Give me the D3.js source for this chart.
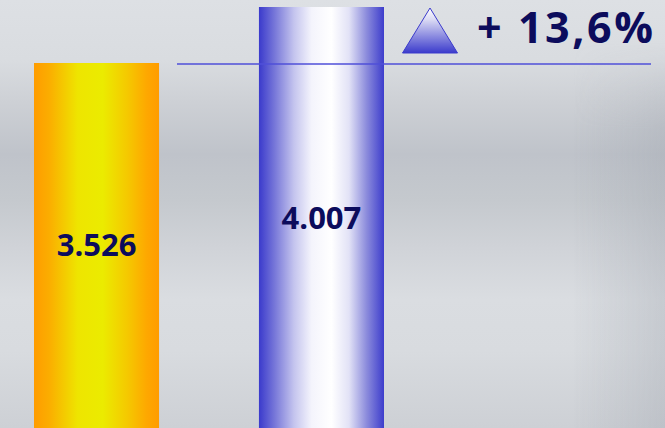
<!DOCTYPE html>
<html>
<head>
<meta charset="utf-8">
<script src="https://cdn.jsdelivr.net/npm/d3@7"></script>
<style>
  html, body { margin: 0; padding: 0; overflow: hidden; }
  svg { display: block; }
</style>
</head>
<body>
<svg id="chart"></svg>
<script>
// values
var categories = ["A", "B"]
var values = [3526, 4007]
var changeLabel = "+ 13,6%"

var W = 665, H = 428
var svg = d3.select("#chart").attr("width", W).attr("height", H)
var defs = svg.append("defs")

function addGradient(id, stops, vertical) {
	var g = defs.append("linearGradient").attr("id", id)
		.attr("x1", 0).attr("y1", 0)
		.attr("x2", vertical ? 0 : 1).attr("y2", vertical ? 1 : 0)
	stops.forEach(function(s) {
		g.append("stop").attr("offset", s[0]).attr("stop-color", s[1])
			.attr("stop-opacity", s[2] == null ? 1 : s[2])
	})
}

addGradient("bg", [[0, "#dde0e4"], [0.14, "#d9dce0"], [0.24, "#cdd0d5"],
	[0.36, "#bfc3ca"], [0.47, "#c5c9ce"], [0.58, "#d0d3d8"], [0.7, "#dadde1"],
	[0.82, "#d8dbdf"], [1, "#cdd0d5"]], true)
addGradient("bgRight", [[0, "#9aa0aa", 0], [0.86, "#9aa0aa", 0], [1, "#9aa0aa", 0.3]], false)
addGradient("fadeDown", [[0, "#000"], [0.1, "#000"], [0.3, "#fff"], [1, "#fff"]], true)
addGradient("orange", [[0, "#ff9c00"], [0.12, "#fbad00"], [0.35, "#eee500"],
	[0.55, "#ebeb00"], [0.75, "#f5c800"], [0.9, "#fea800"], [1, "#ff9c00"]], false)
addGradient("blue", [[0, "#3a3acc"], [0.12, "#7474d8"], [0.28, "#c4c4ee"],
	[0.42, "#f4f4fc"], [0.58, "#ffffff"], [0.72, "#e2e2f6"], [0.86, "#8c8cdc"],
	[1, "#3d3dcc"]], false)
addGradient("tri", [[0, "#ffffff"], [0.25, "#dcdcf4"], [1, "#3b3bcc"]], true)

defs.append("mask").attr("id", "rightMask")
	.append("rect").attr("width", W).attr("height", H).attr("fill", "url(#fadeDown)")

svg.append("rect").attr("width", W).attr("height", H).attr("fill", "url(#bg)")
svg.append("rect").attr("width", W).attr("height", H)
	.attr("fill", "url(#bgRight)").attr("mask", "url(#rightMask)")

var x = d3.scaleBand().domain(categories).range([34, 384])
	.paddingInner(0.444).paddingOuter(0)
var y = d3.scaleLinear().domain([0, d3.max(values)]).range([473.5, 7])

var fmt = d3.formatLocale({ decimal: ",", thousands: ".", grouping: [3], currency: ["", ""] }).format(",d")
var fills = ["url(#orange)", "url(#blue)"]

var data = categories.map(function(c, i) { return { c: c, v: values[i], fill: fills[i] } })

svg.selectAll("rect.bar").data(data).enter().append("rect")
	.attr("class", "bar")
	.attr("x", function(d) { return x(d.c) })
	.attr("width", x.bandwidth())
	.attr("y", function(d) { return y(d.v) })
	.attr("height", function(d) { return y(0) - y(d.v) })
	.attr("fill", function(d) { return d.fill })

svg.selectAll("text.val").data(data).enter().append("text")
	.attr("class", "val")
	.attr("x", function(d) { return x(d.c) + x.bandwidth() / 2 })
	.attr("y", function(d) { return (y(d.v) + H) / 2 + 11 })
	.attr("text-anchor", "middle")
	.attr("font-family", "'Open Sans', sans-serif")
	.attr("font-weight", "bold")
	.attr("font-size", 31)
	.attr("fill", "#0c0c5c")
	.text(function(d) { return fmt(d.v) })

// reference line at first bar's level
svg.append("line")
	.attr("x1", 177).attr("x2", 651)
	.attr("y1", y(values[0]) + 1).attr("y2", y(values[0]) + 1)
	.attr("stroke", "#4f4fd8").attr("stroke-width", 1.5)

svg.append("polygon")
	.attr("points", "430,8 402.5,53 457.5,53")
	.attr("fill", "url(#tri)")
	.attr("stroke", "#3b3bcc").attr("stroke-width", 1)

svg.append("text")
	.attr("x", 477).attr("y", 43)
	.attr("font-family", "'Open Sans', sans-serif")
	.attr("font-weight", "bold")
	.attr("font-size", 43)
	.attr("fill", "#0c0c5c")
	.attr("textLength", 176).attr("lengthAdjust", "spacing")
	.text(changeLabel)
</script>
</body>
</html>
